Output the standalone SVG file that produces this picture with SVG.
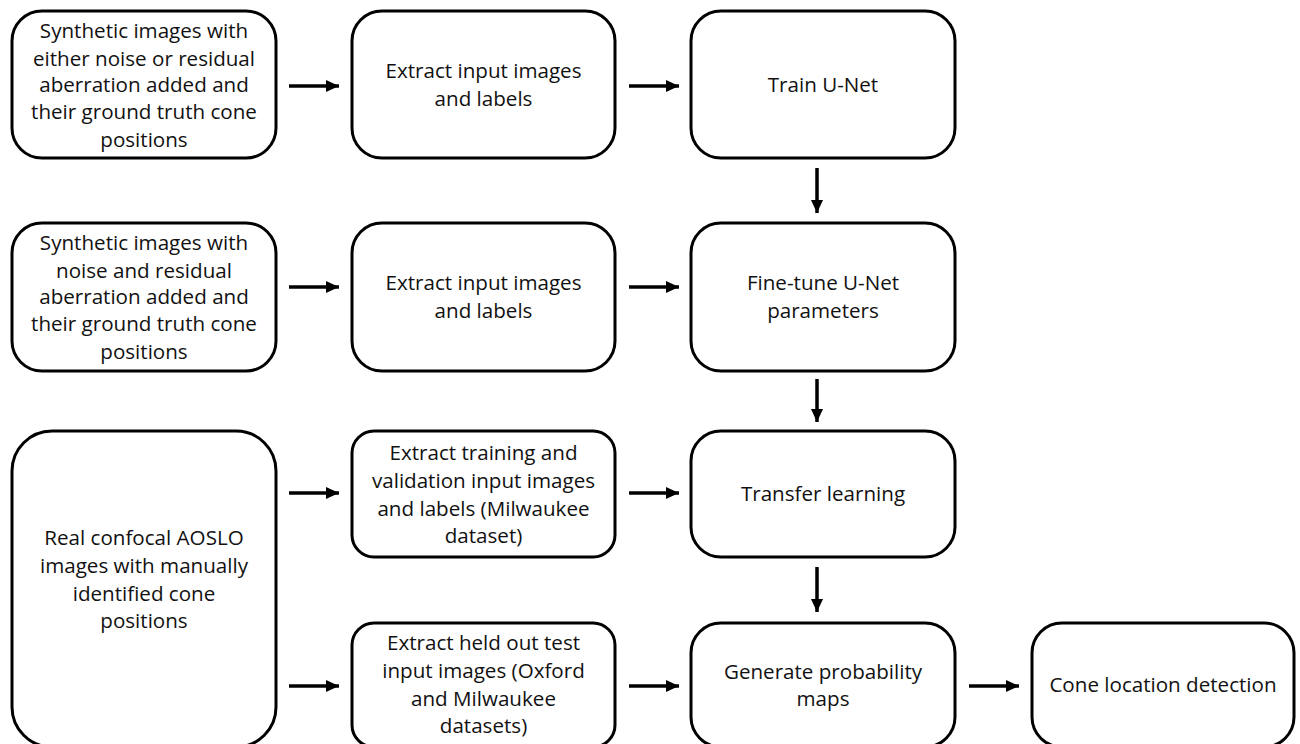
<svg xmlns="http://www.w3.org/2000/svg" width="1300" height="744" viewBox="0 0 1300 744">
<defs>
<marker id="ah" markerUnits="userSpaceOnUse" markerWidth="13" markerHeight="12" refX="13" refY="6" orient="auto">
<path d="M0,0 L13,6 L0,12 z" fill="#000"/>
</marker>
<style>
.box{fill:#fff;stroke:#000;stroke-width:3}
.t{font-family:"Open Sans","Liberation Sans",sans-serif;font-size:20.6px;fill:#111;text-anchor:middle}
.c{stroke:#000;stroke-width:3.5;fill:none;marker-end:url(#ah)}
</style>
</defs>
<rect width="1300" height="744" fill="#fff"/>

<g id="n1">
<rect class="box" x="12" y="11" width="264" height="147" rx="30"/>
<text class="t"><tspan x="144" y="38">Synthetic images with</tspan><tspan x="144" y="65.5">either noise or residual</tspan><tspan x="144" y="92">aberration added and</tspan><tspan x="144" y="119">their ground truth cone</tspan><tspan x="144" y="146.5">positions</tspan></text>
</g>
<g id="n2">
<rect class="box" x="352" y="11" width="263" height="147" rx="30"/>
<text class="t"><tspan x="483.5" y="78">Extract input images</tspan><tspan x="483.5" y="106">and labels</tspan></text>
</g>
<g id="n3">
<rect class="box" x="691" y="11" width="264" height="147" rx="30"/>
<text class="t" x="823" y="92">Train U-Net</text>
</g>

<g id="n4">
<rect class="box" x="12" y="223" width="264" height="148" rx="30"/>
<text class="t"><tspan x="144" y="250">Synthetic images with</tspan><tspan x="144" y="277.5">noise and residual</tspan><tspan x="144" y="304">aberration added and</tspan><tspan x="144" y="331">their ground truth cone</tspan><tspan x="144" y="358.5">positions</tspan></text>
</g>
<g id="n5">
<rect class="box" x="352" y="223" width="263" height="148" rx="30"/>
<text class="t"><tspan x="483.5" y="290">Extract input images</tspan><tspan x="483.5" y="318">and labels</tspan></text>
</g>
<g id="n6">
<rect class="box" x="691" y="223" width="264" height="148" rx="30"/>
<text class="t"><tspan x="823" y="290">Fine-tune U-Net</tspan><tspan x="823" y="318">parameters</tspan></text>
</g>

<g id="n7">
<rect class="box" x="12" y="431" width="264" height="316" rx="40"/>
<text class="t"><tspan x="144" y="545">Real confocal AOSLO</tspan><tspan x="144" y="573">images with manually</tspan><tspan x="144" y="601">identified cone</tspan><tspan x="144" y="628">positions</tspan></text>
</g>
<g id="n8">
<rect class="box" x="352" y="431" width="263" height="126" rx="22"/>
<text class="t"><tspan x="483.5" y="460">Extract training and</tspan><tspan x="483.5" y="488">validation input images</tspan><tspan x="483.5" y="516">and labels (Milwaukee</tspan><tspan x="483.5" y="543">dataset)</tspan></text>
</g>
<g id="n9">
<rect class="box" x="691" y="431" width="264" height="126" rx="30"/>
<text class="t" x="823" y="501">Transfer learning</text>
</g>

<g id="n10">
<rect class="box" x="352" y="623" width="263" height="124" rx="22"/>
<text class="t"><tspan x="483.5" y="650">Extract held out test</tspan><tspan x="483.5" y="678">input images (Oxford</tspan><tspan x="483.5" y="706">and Milwaukee</tspan><tspan x="483.5" y="733">datasets)</tspan></text>
</g>
<g id="n11">
<rect class="box" x="691" y="623" width="264" height="124" rx="30"/>
<text class="t"><tspan x="823" y="678.5">Generate probability</tspan><tspan x="823" y="706">maps</tspan></text>
</g>
<g id="n12">
<rect class="box" x="1032" y="623" width="262" height="124" rx="30"/>
<text class="t" x="1163" y="692">Cone location detection</text>
</g>

<g id="connectors">
<line class="c" x1="289" y1="86" x2="339" y2="86"/>
<line class="c" x1="629" y1="86" x2="679" y2="86"/>
<line class="c" x1="289" y1="287" x2="339" y2="287"/>
<line class="c" x1="629" y1="287" x2="679" y2="287"/>
<line class="c" x1="289" y1="493" x2="339" y2="493"/>
<line class="c" x1="629" y1="493" x2="679" y2="493"/>
<line class="c" x1="289" y1="686" x2="339" y2="686"/>
<line class="c" x1="629" y1="686" x2="679" y2="686"/>
<line class="c" x1="969" y1="686" x2="1019" y2="686"/>
<line class="c" x1="817" y1="168" x2="817" y2="213"/>
<line class="c" x1="817" y1="379" x2="817" y2="422"/>
<line class="c" x1="817" y1="567" x2="817" y2="612"/>
</g>
</svg>
